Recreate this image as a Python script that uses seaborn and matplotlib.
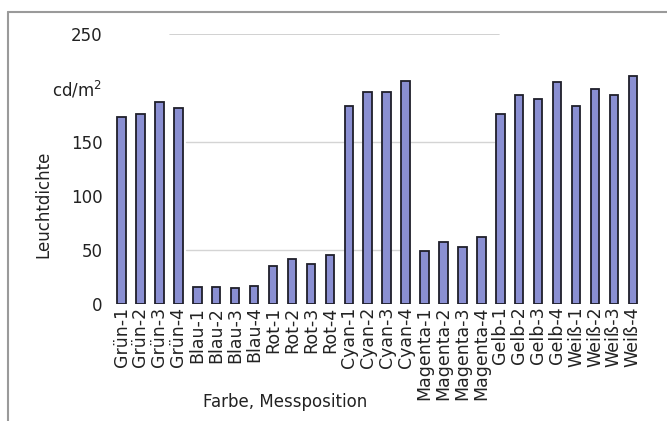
import matplotlib
matplotlib.use("Agg")
import matplotlib.pyplot as plt
import seaborn as sns
import pandas as pd
from matplotlib.lines import Line2D

# Farben und Messpositionen
farben = ["Grün", "Blau", "Rot", "Cyan", "Magenta", "Gelb", "Weiß"]
positionen = [1, 2, 3, 4]
kategorien = [f"{f}-{p}" for f in farben for p in positionen]

# Leuchtdichte in cd/m²
leuchtdichte = [
    173, 176, 187, 182,   # Grün
    16, 16, 15, 17,       # Blau
    35, 42, 37, 45,       # Rot
    183, 196, 196, 207,   # Cyan
    49, 57, 53, 62,       # Magenta
    176, 194, 190, 206,   # Gelb
    183, 199, 194, 211,   # Weiß
]

y_ticks = [0, 50, 100, 150, 200, 250]
y_ticklabels = ["0", "50", "100", "150", "cd/m$^2$", "250"]


def main():
    sns.set_style("white")
    plt.rcParams["font.family"] = ["DejaVu Sans"]

    df = pd.DataFrame({"kategorie": kategorien, "wert": leuchtdichte})

    fig = plt.figure(figsize=(6.67, 4.21), dpi=100)
    ax = fig.add_axes([0.168, 0.278, 0.795, 0.641])

    # teilweise sichtbare Gitterlinien
    ax.axhline(250, xmin=0.11, xmax=0.73, color="#c9c9c9", lw=1.2, zorder=0)
    ax.axhline(150, xmin=0.14, xmax=0.72, color="#d4d4d4", lw=1.0, zorder=0)
    ax.axhline(50, xmin=0.14, xmax=0.55, color="#d4d4d4", lw=1.0, zorder=0)

    sns.barplot(data=df, x="kategorie", y="wert", color="#8a8fd2",
                saturation=1, width=0.45, edgecolor="#1f1f2a",
                linewidth=1.3, ax=ax, zorder=2)

    ax.set_xlim(-0.5, len(kategorien) - 0.5)
    ax.set_ylim(0, 250)
    ax.set_yticks(y_ticks)
    ax.set_yticklabels(y_ticklabels, fontsize=12, color="#222222")
    ax.set_xticks(range(len(kategorien)))
    ax.set_xticklabels(kategorien, rotation=90, fontsize=12.5, color="#222222")
    ax.tick_params(axis="y", length=0, pad=7)
    ax.tick_params(axis="x", length=0, pad=2)

    for s in ax.spines.values():
        s.set_visible(False)

    ax.set_ylabel("Leuchtdichte", fontsize=12, color="#222222")
    ax.yaxis.set_label_coords(-0.112, 0.37)
    ax.set_xlabel("Farbe, Messposition", fontsize=12, color="#222222")
    ax.xaxis.set_label_coords(0.326, -0.33)

    # Rahmen oben und links
    fig.add_artist(Line2D([8 / 667, 1.0], [1 - 12 / 421, 1 - 12 / 421],
                          transform=fig.transFigure, color="#9a9a9a", lw=1.5))
    fig.add_artist(Line2D([8 / 667, 8 / 667], [0.0, 1 - 12 / 421],
                          transform=fig.transFigure, color="#9a9a9a", lw=1.5))

    fig.savefig("out.png", dpi=100)


if __name__ == "__main__":
    main()
